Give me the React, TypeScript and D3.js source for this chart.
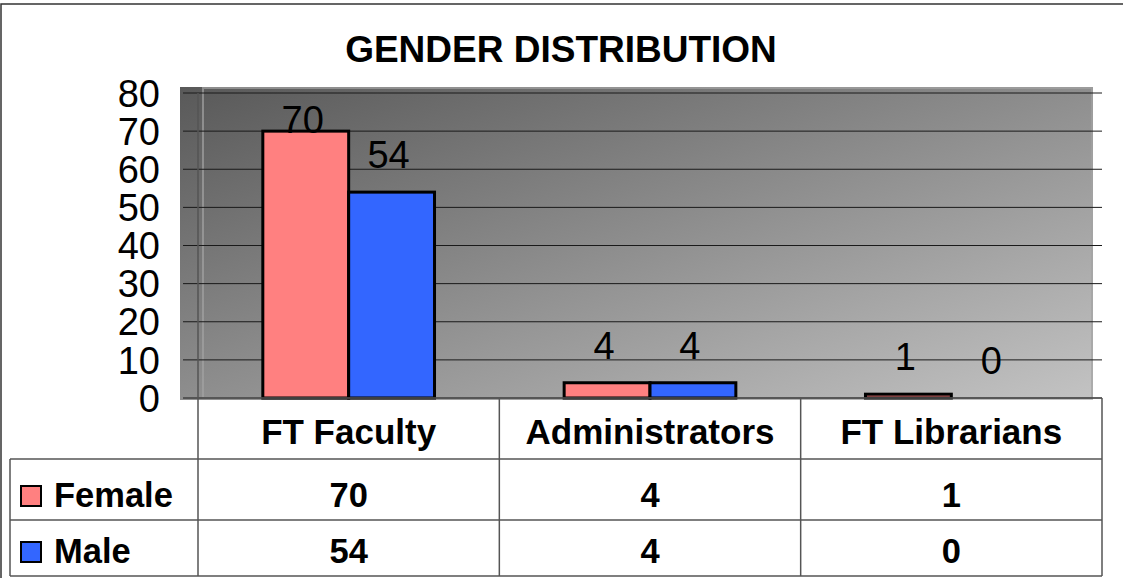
import React from 'react';
import * as d3 from 'd3';

const title = 'GENDER DISTRIBUTION';
const categories = ['FT Faculty', 'Administrators', 'FT Librarians'];
const seriesNames = ['Female', 'Male'];
const female = [70, 4, 1];
const male = [54, 4, 0];
const yTicks = [0, 10, 20, 30, 40, 50, 60, 70, 80];

const seriesValues = [female, male];
const colors = ['#ff8080', '#3366ff'];
const FONT = '"Liberation Sans", Arial, Helvetica, sans-serif';

const App = () => {
    const width = 1123;
    const height = 578;

    // plot + table geometry
    const colLeft = 198;
    const colRight = 1102;
    const legendLeft = 10;
    const headerBottom = 459;
    const row1Bottom = 520;
    const tableBottom = 576;

    const y = d3.scaleLinear().domain([0, 80]).range([398, 93]);
    const x0 = d3.scaleBand().domain(categories).range([colLeft, colRight]).padding(0);
    const x1 = d3.scaleBand().domain(seriesNames).range([0, x0.bandwidth()])
        .paddingInner(0).paddingOuter(0.755);

    const plotTop = 87;
    const plotBottom = 400;
    const wallLeft = 180;
    const wallRight = 1093;

    const labelY = (v) => Math.max(y(v) - 24, y(80) + 40);

    const rowBottoms = [row1Bottom, tableBottom];
    const colEdges = [colLeft, ...categories.map(c => x0(c) + x0.bandwidth())];

    return (
        <div style={{ position: 'absolute', left: 0, top: 0 }}>
            <svg width={width} height={height} style={{ display: 'block', fontFamily: FONT }}>
                <defs>
                    <linearGradient id="wallGrad" x1="0" y1="0" x2="1" y2="1">
                        <stop offset="0%" stopColor="#595959" />
                        <stop offset="100%" stopColor="#c3c3c3" />
                    </linearGradient>
                </defs>
                <rect x={0} y={0} width={width} height={height} fill="#fff" />
                {/* outer frame */}
                <rect x={1} y={4} width={width + 50} height={height + 50} fill="none" stroke="#333" strokeWidth={1.5} />

                <text x={561} y={62} textAnchor="middle" fontWeight="bold" fontSize={37}>{title}</text>

                {/* wall */}
                <rect x={wallLeft} y={plotTop} width={wallRight - wallLeft} height={plotBottom - plotTop} fill="url(#wallGrad)" />
                <rect x={203} y={88} width={wallRight - 204} height={310} fill="none" stroke="#a3a3a3" strokeOpacity={0.7} strokeWidth={2} />

                {/* gridlines */}
                {yTicks.map(t => (
                    <line key={t} x1={183} x2={colRight} y1={y(t)} y2={y(t)} stroke="#1a1a1a" strokeWidth={1} />
                ))}

                {/* y tick labels */}
                {yTicks.map(t => (
                    <text key={t} x={160} y={y(t)} dy="0.36em" textAnchor="end" fontSize={38}>{t}</text>
                ))}

                {/* bars */}
                {categories.map((c, i) => (
                    <g key={c} transform={`translate(${x0(c)},0)`}>
                        {seriesNames.map((s, j) => {
                            const v = seriesValues[j][i];
                            return v > 0 ? (
                                <rect key={s} x={x1(s)} y={y(v)} width={x1.bandwidth()} height={y(0) - y(v)}
                                    fill={colors[j]} stroke="#000" strokeWidth={3} />
                            ) : null;
                        })}
                        {seriesNames.map((s, j) => {
                            const v = seriesValues[j][i];
                            return (
                                <text key={s} x={x1(s) + x1.bandwidth() / 2 - 3} y={labelY(v)} textAnchor="middle" fontSize={38}>{v}</text>
                            );
                        })}
                    </g>
                ))}

                {/* data table */}
                <g stroke="#555" strokeWidth={1.5}>
                    <line x1={colLeft} x2={colRight} y1={398} y2={398} />
                    {colEdges.map((e, i) => (
                        <line key={i} x1={e} x2={e} y1={i === 0 ? y(80) : 398} y2={tableBottom} />
                    ))}
                    <line x1={legendLeft} x2={legendLeft} y1={headerBottom} y2={tableBottom} />
                    {[headerBottom, row1Bottom, tableBottom].map(r => (
                        <line key={r} x1={legendLeft} x2={colRight} y1={r} y2={r} />
                    ))}
                </g>

                {categories.map(c => (
                    <text key={c} x={x0(c) + x0.bandwidth() / 2} y={headerBottom - 15} textAnchor="middle" fontWeight="bold" fontSize={35}>{c}</text>
                ))}

                {seriesNames.map((s, j) => (
                    <g key={s}>
                        <rect x={21} y={rowBottoms[j] - 34} width={20} height={20} fill={colors[j]} stroke="#000" strokeWidth={2} />
                        <text x={54} y={rowBottoms[j] - 13} fontWeight="bold" fontSize={34.5}>{s}</text>
                        {categories.map((c, i) => (
                            <text key={c} x={x0(c) + x0.bandwidth() / 2} y={rowBottoms[j] - 13} textAnchor="middle" fontWeight="bold" fontSize={34.5}>{seriesValues[j][i]}</text>
                        ))}
                    </g>
                ))}
            </svg>
        </div>
    );
};

export default App;
